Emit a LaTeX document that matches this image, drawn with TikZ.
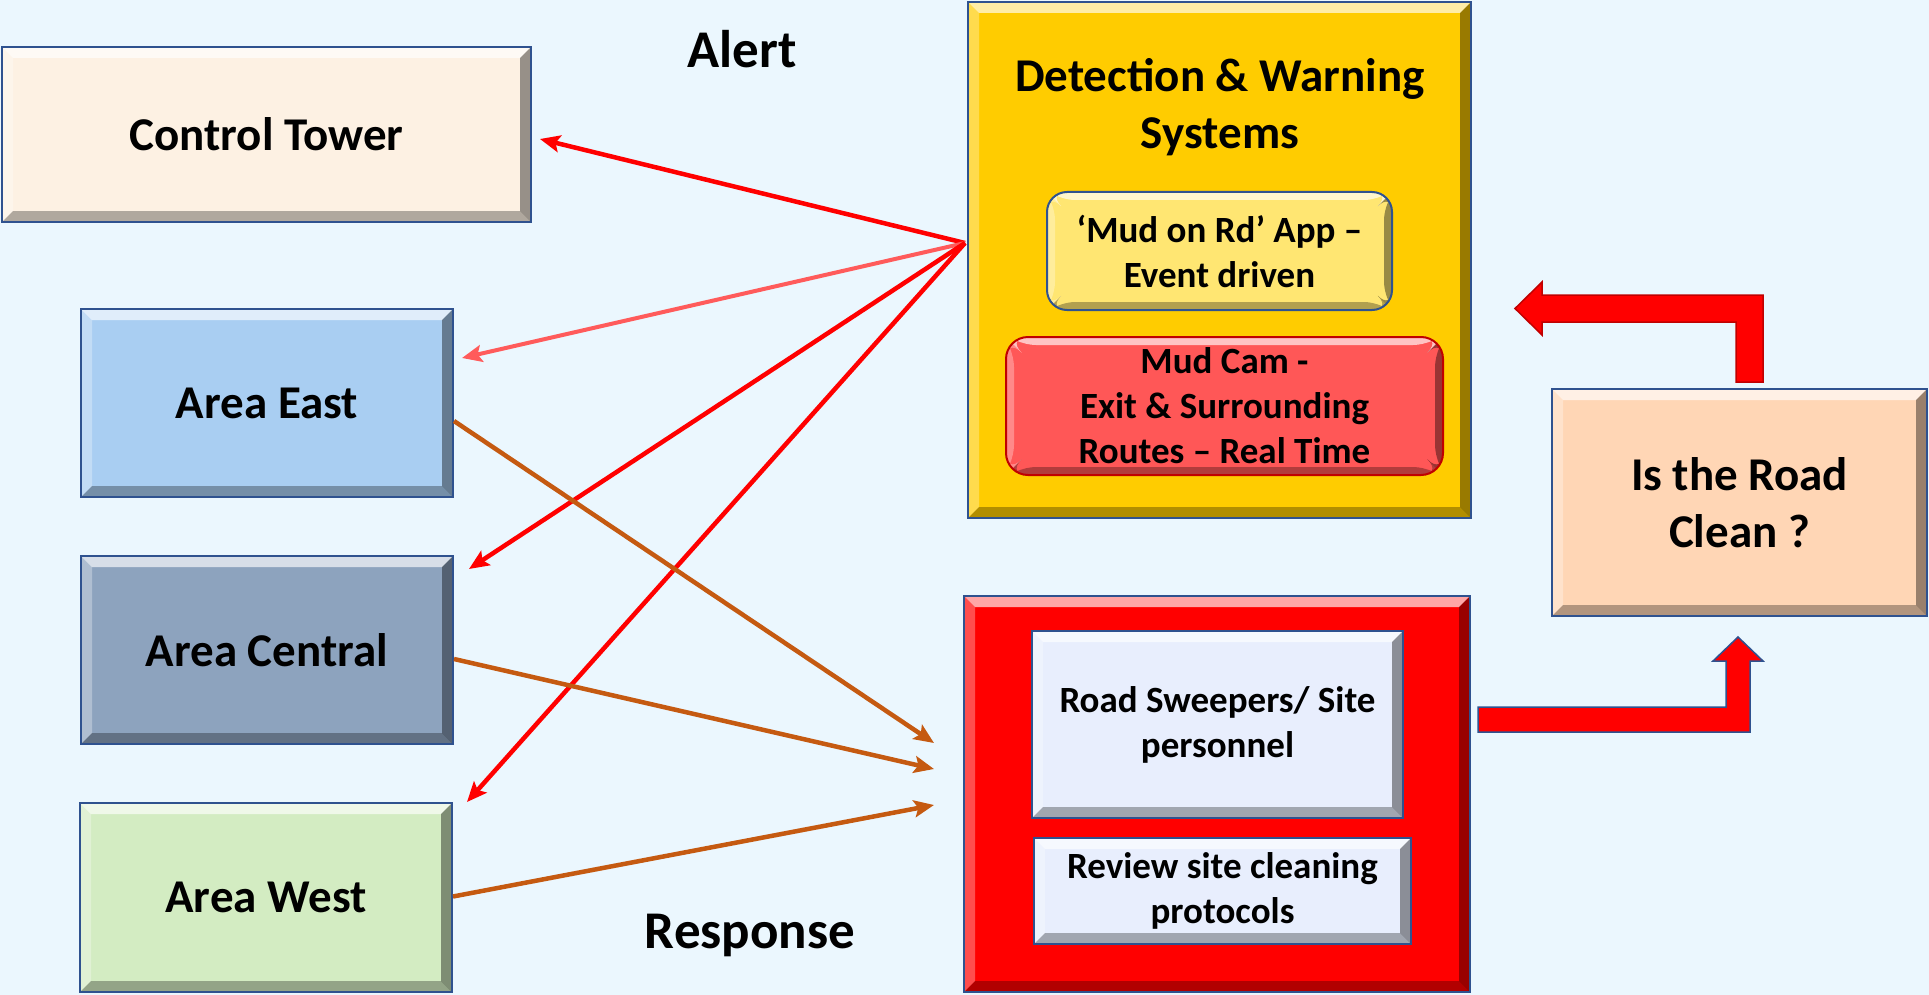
\documentclass[tikz,border=0pt]{standalone}
\usepackage{fontspec}
\setmainfont{Carlito}
\usetikzlibrary{arrows.meta}

\definecolor{bgblue}{HTML}{EBF7FE}
\definecolor{edgeblue}{HTML}{2F528F}
\definecolor{towerpeach}{HTML}{FDF1E3}
\definecolor{eastblue}{HTML}{A9CEF2}
\definecolor{centralgrey}{HTML}{8DA3BE}
\definecolor{westgreen}{HTML}{D3ECC2}
\definecolor{detgold}{HTML}{FFCC00}
\definecolor{appyellow}{HTML}{FFE672}
\definecolor{camred}{HTML}{FF5757}
\definecolor{camedge}{HTML}{C00000}
\definecolor{respred}{HTML}{FF0000}
\definecolor{sweepblue}{HTML}{E8EEFD}
\definecolor{cleanpeach}{HTML}{FFD6B5}
\definecolor{lightred}{HTML}{FF5B5B}
\definecolor{brownline}{HTML}{C55A11}

\tikzset{
    bevel/.style={path picture={
        \coordinate (nw) at (path picture bounding box.north west);
        \coordinate (ne) at (path picture bounding box.north east);
        \coordinate (sw) at (path picture bounding box.south west);
        \coordinate (se) at (path picture bounding box.south east);
        \fill[white,opacity=.65] (nw) -- (ne) -- ([xshift=-#1,yshift=-#1]ne) -- ([xshift=#1,yshift=-#1]nw) -- cycle;
        \fill[white,opacity=.3] (nw) -- ([xshift=#1,yshift=-#1]nw) -- ([xshift=#1,yshift=#1]sw) -- (sw) -- cycle;
        \fill[black,opacity=.3] (sw) -- ([xshift=#1,yshift=#1]sw) -- ([xshift=-#1,yshift=#1]se) -- (se) -- cycle;
        \fill[black,opacity=.4] (se) -- ([xshift=-#1,yshift=#1]se) -- ([xshift=-#1,yshift=-#1]ne) -- (ne) -- cycle;
    }},
    bevel/.default=11pt,
    box/.style={draw=edgeblue, line width=2pt, inner sep=0pt, align=center},
    bigtext/.style={font=\bfseries\fontsize{47}{57}\selectfont},
    smalltext/.style={font=\bfseries\fontsize{37}{45}\selectfont},
    headtext/.style={font=\bfseries\fontsize{53}{60}\selectfont},
    alertline/.style={draw=red, line width=4.5pt, -{Stealth[length=20pt,width=17pt,inset=4pt]}},
    respline/.style={draw=brownline, line width=4.5pt, -{Stealth[length=20pt,width=17pt,inset=4pt]}}
}

\begin{document}
\begin{tikzpicture}[x=1pt, y=-1pt]
    \useasboundingbox (0,0) rectangle (1929,995);
    \fill[bgblue] (0,0) rectangle (1929,995);

    % left column
    \node[box, bevel, bigtext, fill=towerpeach, minimum width=529pt, minimum height=175pt] (ct) at (266.5,134.5) {Control Tower};
    \node[box, bevel, bigtext, fill=eastblue, minimum width=372pt, minimum height=188pt] (ae) at (267,403) {Area East};
    \node[box, bevel, bigtext, fill=centralgrey, minimum width=372pt, minimum height=188pt] (ac) at (267,650) {Area Central};
    \node[box, bevel, bigtext, fill=westgreen, minimum width=372pt, minimum height=189pt] (aw) at (266,897.5) {Area West};

    \node[headtext, anchor=base] (alert) at (742,68) {Alert};
    \node[headtext, anchor=base] (response) at (750,948) {Response};

    % detection and warning
    \node[box, bevel, fill=detgold, minimum width=503pt, minimum height=516pt] (det) at (1219.5,260) {};
    \node[bigtext, align=center, inner sep=0pt] (dettitle) at (1220,107.5) {Detection \& Warning\\Systems};
    \node[box, bevel=8pt, smalltext, fill=appyellow, rounded corners=20pt, minimum width=345pt, minimum height=118pt] (app) at (1219.5,251) {‘Mud on Rd’ App –\\Event driven};
    \node[box, bevel=8pt, smalltext, draw=camedge, fill=camred, rounded corners=22pt, minimum width=437pt, minimum height=138pt] (cam) at (1224.5,406) {Mud Cam -\\Exit \& Surrounding\\Routes – Real Time};

    % response
    \node[box, bevel, fill=respred, minimum width=506pt, minimum height=396pt] (resp) at (1217,794) {};
    \node[box, bevel, smalltext, fill=sweepblue, minimum width=371pt, minimum height=187pt] (sweep) at (1217.5,724.5) {Road Sweepers/ Site\\personnel};
    \node[box, bevel, smalltext, fill=sweepblue, minimum width=377pt, minimum height=106pt] (review) at (1222.5,891) {Review site cleaning\\protocols};

    \node[box, bevel, bigtext, fill=cleanpeach, minimum width=375pt, minimum height=227pt] (clean) at (1739.5,502.5) {Is the Road\\Clean ?};

    % alerts
    \coordinate (alrt) at (965,243);
    \draw[alertline] (alrt) -- ([xshift=8pt,yshift=-4.5pt]ct.east);
    \draw[alertline, draw=lightred, line width=4pt] (alrt) -- ([xshift=8pt,yshift=45pt]ae.east);
    \draw[alertline] (alrt) -- ([xshift=15pt,yshift=-14pt]ac.north east);
    \draw[alertline] (alrt) -- ([xshift=14pt]aw.north east);

    % responses
    \draw[respline] ([yshift=-18pt]ae.east) -- ([xshift=-29pt,yshift=51pt]resp.west);
    \draw[respline] ([yshift=-9pt]ac.east) -- ([xshift=-29pt,yshift=25pt]resp.west);
    \draw[respline] ([yshift=1pt]aw.east) -- ([xshift=-29pt,yshift=-11pt]resp.west);

    % loop arrows
    \filldraw[fill=respred, draw=edgeblue, line width=1.5pt]
        (1478,707) -- (1726,707) -- (1726,661) -- (1713,661) -- (1738,637)
        -- (1763,661) -- (1750,661) -- (1750,732) -- (1478,732) -- cycle;
    \filldraw[fill=respred, draw=camedge, line width=1.5pt]
        (1736,382) -- (1736,322) -- (1542,322) -- (1542,335) -- (1515,308.5)
        -- (1542,282) -- (1542,295) -- (1763,295) -- (1763,382) -- cycle;
\end{tikzpicture}
\end{document}
